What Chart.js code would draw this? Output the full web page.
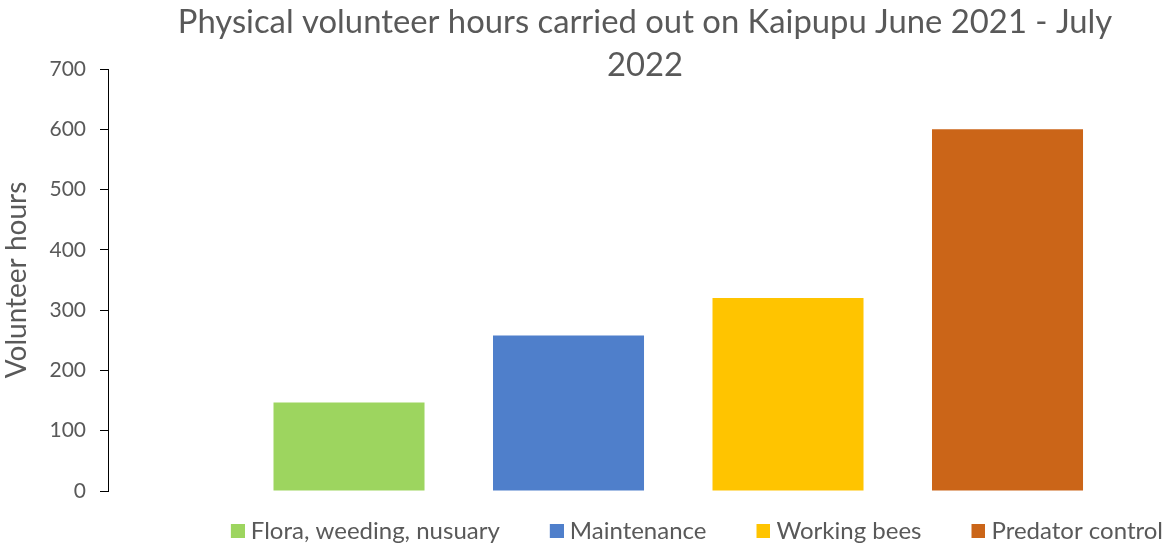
<!DOCTYPE html>
<html>
<head>
<meta charset="utf-8">
<script src="https://cdn.jsdelivr.net/npm/chart.js@4.4.1/dist/chart.umd.min.js"></script>
<style>
  html, body { margin: 0; padding: 0; background: #ffffff; }
  #wrap { width: 1165px; height: 544px; position: relative; }
</style>
</head>
<body>
<div id="wrap"><canvas id="c"></canvas></div>
<script>
// ---- data ----
const categories = ['Flora, weeding, nusuary', 'Maintenance', 'Working bees', 'Predator control'];
const hours = [147, 258, 320, 600];
const barColors = ['#9DD55F', '#4F7FCB', '#FFC400', '#CB6518'];
const titleLines = ['Physical volunteer hours carried out on Kaipupu June 2021 - July', '2022'];
const yTitle = 'Volunteer hours';
const yMin = 0, yMax = 700, yStep = 100;

// ---- style / layout ----
const FONT = 'Lato, "Open Sans", sans-serif';
const TEXT = '#595959';
const LEG_FONT = 24;
const LEG_PAD = 28;       // vertical padding & inter-item spacing
const LEAD = 22;          // extra lead before each legend square
const BOX = 14, BOX_GAP = 6;
const PSW = LEAD + BOX + BOX_GAP - LEG_FONT / 2;
const IMG_W = 2 * (LEAD + BOX - PSW / 2);
const TITLE_SHIFT = 8.5;

function legendSquare(color) {
  const cv = document.createElement('canvas');
  cv.width = IMG_W; cv.height = BOX;
  const g = cv.getContext('2d');
  g.fillStyle = color;
  g.fillRect(IMG_W - BOX, 0, BOX, BOX);
  return cv;
}

const datasets = hours.map((v, i) => ({
  label: categories[i],
  data: [{ x: i + 1, y: v }],
  backgroundColor: barColors[i],
  borderWidth: 0,
  grouped: false,
  barPercentage: 0.688,
  categoryPercentage: 1
}));

const shiftTitle = {
  id: 'shiftTitle',
  afterLayout(chart) {
    const tb = chart.titleBlock;
    if (tb) { tb.left += TITLE_SHIFT; tb.right += TITLE_SHIFT; }
  }
};

new Chart(document.getElementById('c'), {
  type: 'bar',
  data: { datasets },
  plugins: [shiftTitle],
  options: {
    responsive: true,
    maintainAspectRatio: false,
    animation: false,
    devicePixelRatio: 1,
    layout: { padding: { top: 0, left: 0, right: -26, bottom: -9 } },
    scales: {
      x: {
        type: 'linear',
        display: false,
        offset: false,
        min: -0.098,
        max: 4.7175,
        ticks: { stepSize: 1, includeBounds: false },
        grid: { display: false }
      },
      y: {
        min: yMin, max: yMax,
        ticks: { stepSize: yStep, color: TEXT, font: { family: FONT, size: 21 }, padding: 14 },
        grid: { drawOnChartArea: false, drawTicks: true, tickLength: 8, tickColor: '#000000', tickWidth: 1 },
        border: { display: true, color: '#000000', width: 1 },
        title: { display: true, text: yTitle, color: TEXT, font: { family: FONT, size: 28 }, padding: { top: 0, bottom: 0 } },
        afterFit(scale) { scale.width = 108; }
      }
    },
    plugins: {
      title: {
        display: true,
        text: titleLines,
        fullSize: false,
        color: TEXT,
        font: { family: FONT, size: 32.8, weight: 'normal', lineHeight: '43px' },
        padding: { top: 0.5, bottom: -17.5 }
      },
      legend: {
        display: true,
        position: 'bottom',
        align: 'end',
        labels: {
          color: TEXT,
          font: { family: FONT, size: LEG_FONT },
          padding: LEG_PAD,
          usePointStyle: true,
          pointStyleWidth: PSW,
          generateLabels(chart) {
            return chart.data.datasets.map((ds, i) => ({
              text: ds.label,
              fillStyle: ds.backgroundColor,
              strokeStyle: ds.backgroundColor,
              lineWidth: 0,
              fontColor: TEXT,
              pointStyle: legendSquare(ds.backgroundColor),
              hidden: !chart.isDatasetVisible(i),
              datasetIndex: i
            }));
          }
        }
      },
      tooltip: { enabled: false }
    }
  }
});
</script>
</body>
</html>
